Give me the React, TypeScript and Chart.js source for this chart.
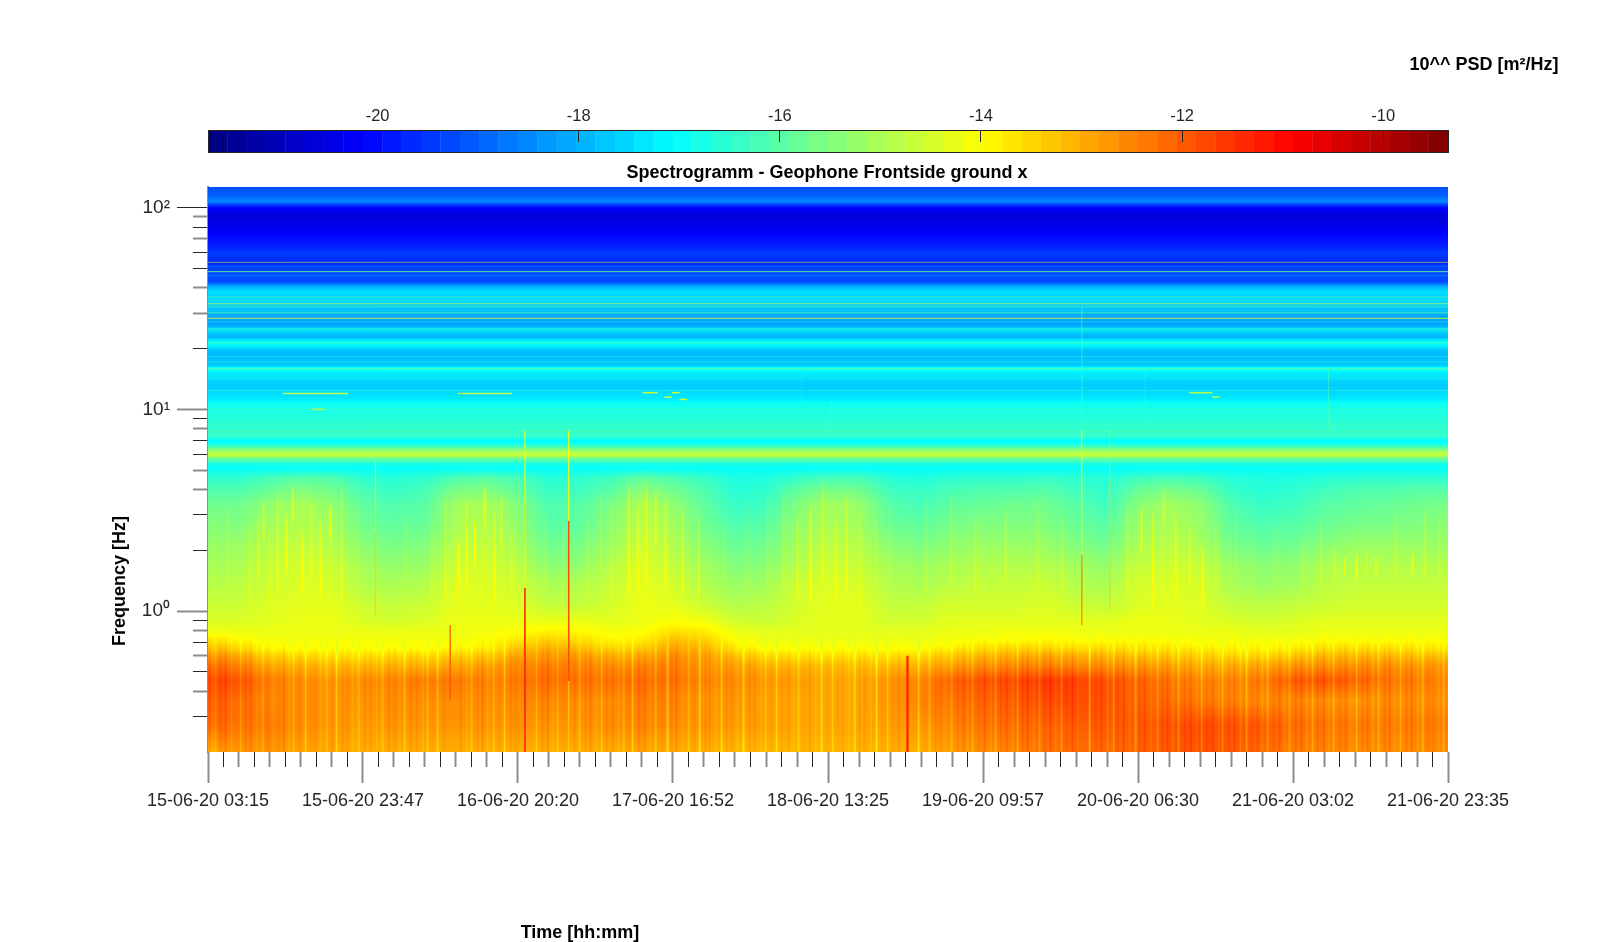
import { useEffect, useRef } from "react";
import { Chart, registerables } from "chart.js";

Chart.register(...registerables);

// colour limits of the colorbar, log10 PSD
const psdMin = -21.686;
const psdMax = -9.356;
const psdTicks = [-20, -18, -16, -14, -12, -10];

const totalHours = 164.33;
const timeLabels = [
  "15-06-20 03:15",
  "15-06-20 23:47",
  "16-06-20 20:20",
  "17-06-20 16:52",
  "18-06-20 13:25",
  "19-06-20 09:57",
  "20-06-20 06:30",
  "21-06-20 03:02",
  "21-06-20 23:35",
];
const majorHours = [0, 20.54, 41.08, 61.62, 82.17, 102.71, 123.25, 143.79, 164.33];

const freqMin = 0.2;
const freqMax = 126.7;
const freqMajor = [1, 10, 100];
const freqLabels: Record<number, string> = { 1: "10⁰", 10: "10¹", 100: "10²" };
const freqMinor = [
  0.3, 0.4, 0.5, 0.6, 0.7, 0.8, 0.9, 2, 3, 4, 5, 6, 7, 8, 9, 20, 30, 40, 50, 60, 70, 80, 90,
];
const freqMinorGray = [0.4, 0.6, 0.8, 4, 5, 8, 30, 40, 70, 90];

const gridHours = [
  0, 4.11, 8.22, 12.32, 16.43, 20.54, 24.65, 28.76, 32.87, 36.97, 41.08, 45.19, 49.3, 53.41,
  57.51, 61.62, 65.73, 69.84, 73.95, 78.06, 82.17, 86.27, 90.38, 94.49, 98.6, 102.71, 106.82,
  110.92, 115.03, 119.14, 123.25, 127.36, 131.47, 135.57, 139.68, 143.79, 147.9, 152.01, 156.12,
  160.22, 164.33,
];

// below 4.6 Hz the level changes over time: one row per frequency, one value per gridHours
const lowFreqs = [
  0.2, 0.272, 0.361, 0.454, 0.533, 0.598, 0.655, 0.718, 0.787, 0.881, 1.07, 1.35, 1.69, 2.13,
  2.67, 3.36, 3.99, 4.57,
];
const lowLevels = [
  [-12.9,-12.7,-12.7,-12.9,-12.9,-13.0,-13.0,-13.0,-13.0,-13.0,-13.0,-13.0,-13.0,-13.0,-12.9,-13.0,-13.0,-13.1,-13.1,-13.1,-13.1,-13.1,-13.0,-13.0,-12.8,-12.6,-12.5,-12.3,-12.2,-12.2,-12.1,-12.0,-11.9,-12.0,-12.2,-12.4,-12.5,-12.6,-12.6,-12.6,-12.6],
  [-12.1,-12.3,-12.4,-12.6,-12.7,-12.8,-12.7,-12.7,-12.7,-12.7,-12.7,-12.7,-12.7,-12.6,-12.5,-12.6,-12.7,-12.8,-12.8,-12.9,-12.9,-12.9,-12.8,-12.7,-12.5,-12.3,-12.2,-12.1,-12.0,-12.0,-12.0,-11.9,-11.8,-11.9,-12.0,-12.2,-12.3,-12.4,-12.4,-12.4,-12.4],
  [-11.9,-12.2,-12.5,-12.6,-12.7,-12.7,-12.6,-12.6,-12.6,-12.6,-12.6,-12.5,-12.6,-12.6,-12.4,-12.5,-12.7,-12.7,-12.8,-12.9,-12.9,-12.9,-12.7,-12.5,-12.3,-12.1,-12.0,-11.8,-11.8,-11.9,-12.1,-12.2,-12.4,-12.5,-12.6,-12.5,-12.6,-12.7,-12.6,-12.6,-12.6],
  [-11.7,-11.9,-12.4,-12.6,-12.7,-12.6,-12.5,-12.4,-12.4,-12.5,-12.4,-12.2,-12.3,-12.3,-12.2,-12.3,-12.5,-12.6,-12.7,-12.8,-12.9,-12.9,-12.7,-12.5,-12.1,-11.9,-11.8,-11.6,-11.7,-11.9,-12.1,-12.3,-12.5,-12.5,-12.4,-12.0,-11.9,-12.1,-12.3,-12.4,-12.5],
  [-12.1,-12.4,-12.9,-13.0,-13.1,-13.1,-13.0,-13.0,-12.9,-12.8,-12.6,-12.4,-12.5,-12.6,-12.5,-12.4,-12.7,-12.8,-13.0,-13.1,-13.1,-13.2,-13.1,-13.0,-12.8,-12.6,-12.5,-12.4,-12.5,-12.6,-12.7,-12.8,-13.0,-13.0,-12.9,-12.7,-12.6,-12.6,-12.6,-12.7,-12.7],
  [-12.6,-12.9,-13.4,-13.5,-13.6,-13.6,-13.5,-13.5,-13.4,-13.3,-12.9,-12.7,-12.8,-13.0,-12.9,-12.6,-12.8,-13.2,-13.5,-13.6,-13.6,-13.6,-13.6,-13.5,-13.3,-13.1,-13.0,-12.9,-13.0,-13.1,-13.2,-13.3,-13.4,-13.5,-13.5,-13.3,-13.1,-13.1,-13.1,-13.2,-13.2],
  [-13.1,-13.5,-13.9,-14.0,-14.0,-14.0,-14.0,-14.0,-13.9,-13.8,-13.3,-13.0,-13.2,-13.5,-13.4,-12.9,-13.1,-13.7,-14.0,-14.0,-14.0,-14.0,-14.0,-14.0,-13.8,-13.6,-13.5,-13.5,-13.6,-13.6,-13.7,-13.7,-13.8,-13.9,-13.9,-13.8,-13.6,-13.6,-13.6,-13.7,-13.7],
  [-13.6,-13.9,-14.1,-14.1,-14.1,-14.1,-14.1,-14.1,-14.1,-14.0,-13.7,-13.4,-13.6,-13.9,-13.8,-13.2,-13.4,-14.0,-14.2,-14.2,-14.2,-14.2,-14.2,-14.2,-14.1,-14.0,-14.0,-13.9,-14.0,-14.0,-14.0,-14.0,-14.1,-14.1,-14.1,-14.1,-14.0,-14.0,-14.0,-14.0,-14.0],
  [-14.1,-14.2,-14.2,-14.2,-14.2,-14.2,-14.2,-14.2,-14.2,-14.1,-14.0,-13.8,-13.9,-14.1,-14.0,-13.6,-13.7,-14.2,-14.3,-14.3,-14.3,-14.3,-14.3,-14.3,-14.2,-14.2,-14.1,-14.1,-14.2,-14.2,-14.2,-14.2,-14.2,-14.2,-14.3,-14.3,-14.2,-14.2,-14.2,-14.2,-14.2],
  [-14.4,-14.4,-14.3,-14.2,-14.2,-14.4,-14.5,-14.4,-14.2,-14.2,-14.2,-14.2,-14.2,-14.3,-14.2,-14.0,-14.1,-14.5,-14.6,-14.4,-14.3,-14.3,-14.5,-14.5,-14.3,-14.3,-14.3,-14.3,-14.3,-14.3,-14.2,-14.2,-14.3,-14.4,-14.5,-14.4,-14.3,-14.3,-14.3,-14.3,-14.3],
  [-14.6,-14.6,-14.4,-14.3,-14.3,-14.6,-14.7,-14.6,-14.3,-14.3,-14.4,-14.7,-14.7,-14.5,-14.2,-14.3,-14.6,-14.9,-14.8,-14.5,-14.3,-14.3,-14.7,-14.7,-14.5,-14.5,-14.5,-14.4,-14.6,-14.7,-14.4,-14.3,-14.4,-14.7,-14.8,-14.7,-14.6,-14.5,-14.5,-14.5,-14.5],
  [-14.9,-14.8,-14.6,-14.4,-14.5,-14.9,-15.0,-14.9,-14.4,-14.4,-14.6,-15.0,-14.9,-14.7,-14.3,-14.5,-14.9,-15.2,-15.1,-14.6,-14.4,-14.5,-14.9,-15.0,-14.8,-14.7,-14.7,-14.6,-14.9,-15.0,-14.5,-14.4,-14.5,-15.0,-15.2,-15.1,-14.8,-14.7,-14.7,-14.7,-14.7],
  [-15.1,-15.0,-14.7,-14.5,-14.6,-15.1,-15.3,-15.2,-14.6,-14.5,-14.8,-15.4,-15.3,-14.9,-14.4,-14.7,-15.1,-15.5,-15.4,-14.9,-14.6,-14.7,-15.1,-15.2,-15.0,-14.9,-14.9,-14.9,-15.1,-15.3,-14.7,-14.6,-14.7,-15.2,-15.4,-15.3,-15.0,-14.9,-14.9,-14.9,-14.9],
  [-15.3,-15.2,-14.9,-14.7,-14.9,-15.4,-15.6,-15.5,-14.8,-14.7,-15.1,-15.7,-15.6,-15.2,-14.6,-14.9,-15.4,-15.8,-15.7,-15.1,-14.8,-14.9,-15.4,-15.6,-15.3,-15.2,-15.2,-15.2,-15.5,-15.7,-15.0,-14.8,-15.0,-15.6,-15.8,-15.7,-15.4,-15.2,-15.2,-15.2,-15.2],
  [-15.5,-15.5,-15.1,-14.9,-15.1,-15.7,-15.9,-15.8,-15.0,-14.9,-15.3,-16.0,-15.9,-15.4,-14.8,-15.1,-15.7,-16.1,-16.0,-15.3,-15.0,-15.1,-15.8,-15.9,-15.6,-15.5,-15.5,-15.5,-15.8,-16.0,-15.2,-15.0,-15.2,-15.9,-16.1,-16.0,-15.8,-15.6,-15.6,-15.5,-15.4],
  [-15.7,-15.7,-15.3,-15.0,-15.3,-15.9,-16.1,-16.0,-15.1,-15.0,-15.5,-16.1,-16.0,-15.6,-14.9,-15.3,-15.9,-16.4,-16.3,-15.5,-15.1,-15.2,-16.0,-16.2,-15.9,-15.8,-15.7,-15.7,-16.0,-16.3,-15.4,-15.1,-15.3,-16.1,-16.4,-16.3,-16.0,-15.9,-15.8,-15.7,-15.6],
  [-16.1,-16.1,-15.8,-15.5,-15.7,-16.2,-16.4,-16.2,-15.6,-15.5,-15.9,-16.4,-16.3,-16.0,-15.4,-15.7,-16.1,-16.6,-16.5,-15.9,-15.6,-15.7,-16.3,-16.4,-16.2,-16.1,-16.1,-16.0,-16.3,-16.5,-15.8,-15.6,-15.8,-16.4,-16.6,-16.5,-16.3,-16.1,-16.1,-16.0,-16.0],
  [-16.5,-16.5,-16.2,-16.0,-16.1,-16.5,-16.6,-16.5,-16.1,-16.0,-16.2,-16.6,-16.5,-16.3,-15.9,-16.1,-16.4,-16.7,-16.7,-16.4,-16.2,-16.2,-16.6,-16.7,-16.5,-16.5,-16.5,-16.4,-16.5,-16.6,-16.3,-16.2,-16.3,-16.6,-16.7,-16.7,-16.6,-16.5,-16.5,-16.5,-16.5],
];

// above 4.6 Hz the level is almost steady, one value per band
const bandFreqs = [
  5.07, 5.37, 5.69, 5.95, 6.23, 6.52, 6.9, 7.39, 8.88, 10.7, 11.2, 13.2, 15.4, 15.9, 16.47, 19.3,
  21.4, 22.9, 25.1, 26, 28.5, 33, 38.4, 40.6, 43, 48.2, 53.4, 59.3, 64.9, 72.8, 81.6, 91.5, 100,
  103.8, 107.4, 115, 126.7,
];
const bandLevels = [
  -17.0, -16.8, -15.8, -14.6, -15.2, -16.2, -17.2, -16.4, -16.6, -16.9, -17.3, -17.7, -17.2, -16.6,
  -17.7, -17.9, -16.9, -18.0, -17.4, -18.1, -18.2, -17.6, -17.5, -18.0, -19.3, -19.2, -19.7, -19.4,
  -19.8, -20.1, -20.4, -20.6, -20.1, -19.3, -18.5, -19.0, -19.2,
];

// thin tones over the whole record: frequency, level, opacity
const toneLines = [
  [53.6, -14.2, 0.55], [48.2, -15.6, 0.8], [36.1, -15.6, 0.5], [33.4, -14.6, 0.7], [32.3, -15.6, 0.5],
  [30.1, -15.8, 0.7], [28.3, -14.6, 0.9], [25.0, -16.2, 0.7], [21.4, -16.0, 0.7], [15.9, -16.2, 0.8],
  [51.3, -17.4, 0.35], [46, -17.6, 0.35], [35, -16.4, 0.35], [30.8, -16.6, 0.3], [27.2, -16.4, 0.4],
  [24.3, -16.6, 0.35], [22.2, -16.8, 0.35], [20.4, -16.6, 0.35], [18.3, -16.6, 0.35], [17.2, -16.4, 0.3],
  [14.3, -16.2, 0.4], [12.4, -16.0, 0.3], [10, -15.8, 0.4], [8.3, -15.8, 0.35], [7.75, -15.8, 0.4],
];

// short tones around 8-12 Hz: from hour, to hour, frequency, level
const shortTones = [
  [9.9, 18.6, 12.0, -14.8], [33.1, 40.3, 12.0, -14.8], [13.8, 15.5, 10.0, -14.6],
  [57.6, 59.6, 12.1, -14.6], [60.5, 61.5, 11.5, -14.6], [61.5, 62.5, 12.1, -14.6],
  [62.5, 63.5, 11.2, -14.6], [130, 133.1, 12.1, -14.8], [133.1, 134, 11.5, -14.8],
];

// single events: hour, low frequency, high frequency, level, opacity, width
const spikes = [
  [22.2, 2.5, 5.6, -14.8, 0.7, 1.3], [22.2, 0.95, 2.5, -13.4, 0.8, 1.3],
  [42.0, 1.3, 7.9, -14.2, 0.8, 1.3], [42.0, 0.2, 1.3, -11.2, 1, 1.5],
  [47.8, 2.8, 7.9, -13.9, 0.9, 1.3], [47.8, 0.45, 2.8, -11.8, 1, 1.5], [47.8, 0.2, 0.45, -13.4, 0.8, 1.3],
  [32.1, 0.36, 0.85, -11.8, 0.8, 1.5],
  [92.7, 0.2, 0.6, -11.3, 1, 2.2],
  [115.8, 7.9, 32, -15.9, 0.45, 1.3], [115.8, 1.9, 7.9, -14.4, 0.8, 1.3], [115.8, 0.85, 1.9, -12.4, 0.9, 1.3],
  [119.5, 4.5, 7.9, -15.4, 0.5, 1.3], [119.5, 1.0, 4.5, -13.4, 0.8, 1.3],
  [124.2, 7.9, 15.7, -16.0, 0.4, 1], [148.5, 7.9, 15.7, -15.8, 0.45, 1], [78.7, 7.9, 15.7, -16.2, 0.35, 1], [82.6, 7.9, 11, -15.6, 0.35, 1],
];

// fine vertical streaks in the mid band: hour, low frequency, high frequency, level change
const midStreaks = [
  [0.6, 1.1, 3.4, 0.3], [2.7, 1.2, 3.6, 0.3], [5.4, 1.0, 3.0, 0.4], [6.6, 1.4, 3.1, 0.5], [7.3, 2.2, 3.6, 0.8],
  [8.1, 1.0, 2.6, 0.3], [9.2, 1.1, 4.4, 0.5], [10.4, 1.5, 3.1, 0.7], [11.1, 2.6, 4.4, 0.6], [12.4, 1.2, 2.6, 0.5],
  [13.6, 1.3, 4.0, 0.4], [14.9, 1.1, 3.0, 0.5], [16.2, 2.2, 3.4, 0.9], [17.6, 1.0, 5.0, 0.5], [19.8, 1.3, 3.6, 0.3],
  [26.1, 1.3, 3.2, 0.3], [29.5, 1.1, 2.9, 0.3], [31.4, 1.0, 4.2, 0.4], [33.1, 1.1, 2.4, 0.6], [34.2, 1.2, 3.8, 0.5],
  [35.3, 1.6, 3.0, 0.7], [36.6, 2.5, 4.3, 0.7], [37.9, 1.0, 3.4, 0.5], [38.8, 1.9, 3.9, 0.7], [40.1, 1.2, 2.7, 0.4],
  [44.6, 1.2, 3.2, 0.3], [50.2, 1.1, 3.1, 0.3], [51.9, 1.4, 4.2, 0.3], [53.4, 1.0, 3.9, 0.4], [55.6, 1.1, 5.0, 0.6],
  [56.9, 1.2, 3.5, 0.6], [58.1, 1.3, 4.6, 0.6], [59.3, 2.0, 4.2, 0.7], [60.6, 1.2, 4.0, 0.6], [62.8, 1.1, 3.6, 0.5],
  [64.9, 1.0, 3.4, 0.4], [68.3, 1.3, 3.0, 0.2], [71.3, 1.2, 3.6, 0.3], [74.1, 1.1, 4.4, 0.3], [76.2, 1.2, 4.4, 0.4],
  [78.0, 1.1, 3.1, 0.5], [79.8, 1.0, 3.8, 0.6], [81.4, 1.3, 4.6, 0.6], [83.1, 1.1, 3.0, 0.5], [84.5, 1.2, 4.1, 0.5],
  [86.3, 1.0, 3.3, 0.4], [88.4, 1.2, 3.4, 0.2], [90.2, 1.3, 3.6, 0.3], [92.9, 1.2, 3.0, 0.2], [95.1, 1.1, 4.0, 0.3],
  [98.4, 1.2, 4.3, 0.3], [101.7, 1.1, 3.2, 0.4], [105.6, 1.3, 3.4, 0.4], [109.8, 1.2, 3.9, 0.3], [113.2, 1.1, 3.4, 0.3],
  [121.8, 1.1, 3.7, 0.5], [123.6, 1.9, 3.4, 0.8], [125.1, 1.0, 3.4, 0.6], [126.6, 2.6, 4.2, 0.6], [128.2, 1.1, 3.2, 0.6],
  [130.0, 1.3, 2.9, 0.5], [131.7, 1.0, 2.2, 0.6], [133.5, 1.2, 3.0, 0.4], [136.2, 1.3, 3.6, 0.2], [138.1, 1.1, 3.1, 0.2],
  [141.3, 1.2, 2.8, 0.2], [145.0, 1.2, 2.4, 0.3], [147.4, 1.2, 3.1, 0.3], [149.2, 1.4, 2.1, 0.5], [150.6, 1.5, 1.9, 0.6],
  [152.2, 1.4, 2.0, 0.6], [153.5, 1.5, 2.0, 0.4], [154.7, 1.5, 1.9, 0.7], [157.3, 1.4, 3.2, 0.4], [159.6, 1.5, 2.0, 0.6],
  [161.2, 1.4, 3.4, 0.4], [163.2, 1.3, 3.2, 0.3],
];

// fine streaks in the orange band under 0.7 Hz: hour, level change
const lowStreaks = [
  [0.5, -0.3], [0.9, -0.4], [1.6, 0.2], [2.3, 0.3], [3.1, -0.2], [4.2, -0.4], [4.9, 0.2], [5.6, 0.3], [6.3, -0.2],
  [7.1, -0.4], [7.8, 0.2], [8.6, -0.2], [9.3, 0.1], [9.9, 0.3], [10.6, -0.2], [11.3, -0.4], [12.1, 0.2], [12.8, -0.5],
  [13.5, 0.1], [14.2, 0.2], [14.9, -0.2], [15.7, -0.4], [16.4, 0.2], [17.0, -0.6], [17.7, 0.2], [18.4, 0.2], [19.1, -0.2],
  [19.9, -0.4], [20.7, 0.2], [21.5, 0.2], [22.3, -0.2], [23.1, -0.4], [23.9, 0.2], [24.6, 0.2], [25.3, -0.2], [26.0, -0.5],
  [26.8, 0.2], [27.6, 0.2], [28.3, -0.2], [29.0, -0.4], [29.7, 0.1], [30.4, -0.6], [31.1, 0.2], [33.4, 0.2], [34.2, -0.2],
  [34.9, -0.4], [35.6, 0.2], [36.3, 0.3], [37.0, -0.2], [37.8, -0.4], [38.5, 0.1], [39.2, -0.6], [40.0, 0.2], [40.7, 0.2],
  [43.5, -0.4], [44.2, 0.2], [44.9, 0.3], [45.6, -0.2], [46.3, -0.4], [47.1, 0.1], [48.5, 0.2], [49.2, -0.4], [49.9, 0.2],
  [50.6, 0.3], [51.3, -0.2], [52.1, -0.4], [52.8, 0.2], [53.5, 0.2], [54.3, -0.2], [55.0, -0.4], [55.6, 0.1], [56.2, -0.6],
  [57.0, 0.2], [57.8, 0.2], [58.5, -0.2], [59.3, -0.5], [60.1, 0.1], [60.8, -0.7], [61.4, 0.2], [62.0, 0.3], [62.8, -0.2],
  [63.6, -0.4], [64.4, 0.1], [65.1, -0.7], [65.8, 0.2], [66.4, 0.2], [67.2, -0.2], [68.0, -0.6], [68.6, 0.2], [69.3, 0.2],
  [70.1, -0.2], [70.9, -0.7], [71.7, 0.2], [72.4, 0.2], [73.1, -0.2], [73.8, -0.4], [74.6, 0.1], [75.3, -0.6], [76.0, 0.1],
  [76.8, 0.2], [77.5, -0.2], [78.2, -0.4], [78.9, 0.1], [79.6, 0.2], [80.4, -0.2], [81.2, -0.6], [82.0, 0.1], [82.7, -0.4],
  [83.3, 0.1], [84.0, 0.2], [84.8, -0.2], [85.6, -0.5], [86.3, 0.2], [87.0, 0.2], [87.7, -0.2], [88.5, -0.7], [89.3, 0.1],
  [90.0, -0.4], [90.7, 0.1], [91.4, 0.2], [94.1, -0.7], [94.9, 0.1], [95.6, -0.4], [96.3, 0.2], [97.0, 0.2], [97.7, -0.2],
  [98.5, -0.4], [99.2, 0.2], [100.0, 0.3], [100.6, -0.2], [101.3, -0.4], [102.1, 0.2], [102.9, 0.3], [103.6, -0.2], [104.3, -0.5],
  [105.0, 0.2], [105.8, 0.3], [106.5, -0.2], [107.2, -0.5], [107.9, 0.2], [108.6, 0.3], [109.3, -0.2], [110.1, -0.5], [110.8, 0.2],
  [111.6, 0.3], [112.3, -0.2], [113.0, -0.5], [113.7, 0.2], [114.5, 0.3], [115.2, -0.2], [116.8, -0.7], [117.5, 0.2], [118.3, 0.3],
  [119.1, -0.3], [119.9, -0.5], [120.5, 0.2], [121.2, 0.3], [122.0, -0.2], [122.8, -0.7], [123.4, 0.2], [124.1, 0.3], [124.9, -0.2],
  [125.7, -0.5], [126.4, 0.2], [127.1, 0.3], [127.8, -0.3], [128.6, -0.6], [129.4, 0.2], [130.2, 0.3], [130.9, -0.2], [131.6, -0.5],
  [132.3, 0.2], [133.1, 0.3], [133.8, -0.2], [134.4, -0.5], [135.2, 0.2], [136.0, 0.3], [136.7, -0.3], [137.5, -0.6], [138.2, 0.2],
  [139.0, 0.3], [139.7, -0.2], [140.4, -0.5], [141.2, 0.2], [141.9, 0.3], [142.6, -0.2], [143.3, -0.5], [144.0, 0.2], [144.8, 0.3],
  [145.5, -0.3], [146.3, -0.5], [147.0, 0.2], [147.7, 0.3], [148.4, -0.2], [149.1, -0.5], [149.9, 0.2], [150.7, 0.3], [151.4, -0.2],
  [152.1, -0.5], [152.9, 0.2], [153.6, 0.3], [154.3, -0.3], [155.0, -0.5], [155.8, 0.2], [156.5, 0.3], [157.2, -0.2], [158.0, -0.5],
  [158.7, 0.2], [159.4, 0.3], [160.2, -0.3], [160.9, -0.5], [161.6, 0.2], [162.3, 0.2], [163.0, -0.2], [163.7, -0.4],
];

const textColor = "#262626";
const grayTick = "#8c8c8c";
const labelFont = "'Liberation Sans', Arial, sans-serif";

const jetAt = (x: number): [number, number, number] => {
  const ch = (c: number) => Math.round(255 * Math.min(1, Math.max(0, 1.5 - Math.abs(4 * x - c))));
  return [ch(3), ch(2), ch(1)];
};
const psdFrac = (v: number) => Math.min(1, Math.max(0, (v - psdMin) / (psdMax - psdMin)));
const psdColor = (v: number, alpha = 1) => {
  const [r, g, b] = jetAt(psdFrac(v));
  return `rgba(${r},${g},${b},${alpha})`;
};

const bracket = (list: number[], v: number): [number, number] => {
  let i = 0;
  while (i < list.length - 2 && list[i + 1] < v) i++;
  const t = (v - list[i]) / (list[i + 1] - list[i]);
  return [i, Math.min(1, Math.max(0, t))];
};

const rowFreqs = [...lowFreqs, ...bandFreqs].map(Math.log10);
const rowLevels = [...lowLevels, ...bandLevels.map((v) => gridHours.map(() => v))];

// paints the level table and its streaks through the x and y scales
const spectrogramPlugin = {
  id: "spectrogram",
  beforeDatasetsDraw(chart: Chart) {
    const { ctx, chartArea, scales } = chart;
    const left = Math.round(chartArea.left);
    const top = Math.round(chartArea.top);
    const w = Math.round(chartArea.right) - left;
    const h = Math.round(chartArea.bottom) - top;
    const levels = new Float32Array(w * h);
    const cols = Array.from({ length: w }, (_, px) =>
      bracket(gridHours, scales.x.getValueForPixel(left + px + 0.5) as number)
    );
    for (let py = 0; py < h; py++) {
      const f = scales.y.getValueForPixel(top + py + 0.5) as number;
      const [r, rt] = bracket(rowFreqs, Math.log10(f));
      const lo = rowLevels[r];
      const hi = rowLevels[r + 1];
      for (let px = 0; px < w; px++) {
        const [c, ct] = cols[px];
        const a = lo[c] + (lo[c + 1] - lo[c]) * ct;
        const b = hi[c] + (hi[c + 1] - hi[c]) * ct;
        levels[py * w + px] = a + (b - a) * rt;
      }
    }
    const addStreak = (hour: number, f0: number, f1: number, delta: number) => {
      const px = Math.round(scales.x.getPixelForValue(hour)) - left;
      const y0 = scales.y.getPixelForValue(f1) - top;
      const y1 = scales.y.getPixelForValue(f0) - top;
      for (let py = Math.max(0, Math.round(y0)); py < Math.min(h, Math.round(y1)); py++) {
        const u = (py - y0) / (y1 - y0);
        const fade = Math.min(1, Math.min(u, 1 - u) * 6);
        if (px >= 0 && px < w) levels[py * w + px] += delta * fade;
        if (px + 1 >= 0 && px + 1 < w) levels[py * w + px + 1] += 0.6 * delta * fade;
        if (px - 1 >= 0 && px - 1 < w) levels[py * w + px - 1] += 0.3 * delta * fade;
      }
    };
    lowStreaks.forEach(([hour, delta]) => addStreak(hour, 0.16, 0.8, delta));
    midStreaks.forEach(([hour, f0, f1, delta]) => addStreak(hour, f0, f1, delta));

    const img = ctx.createImageData(w, h);
    levels.forEach((v, i) => {
      const [r, g, b] = jetAt(psdFrac(v));
      img.data[i * 4] = r;
      img.data[i * 4 + 1] = g;
      img.data[i * 4 + 2] = b;
      img.data[i * 4 + 3] = 255;
    });
    ctx.putImageData(img, left, top);
  },
};

const chartLabelsPlugin = {
  id: "chartLabels",
  afterDraw(chart: Chart) {
    const { ctx } = chart;
    const put = (text: string, x: number, y: number, rotate = 0) => {
      ctx.save();
      ctx.translate(x, y);
      ctx.rotate(rotate);
      ctx.fillText(text, 0, 0);
      ctx.restore();
    };
    ctx.save();
    ctx.fillStyle = "#000";
    ctx.font = `bold 18px ${labelFont}`;
    ctx.textAlign = "center";
    ctx.textBaseline = "middle";
    put("Spectrogramm - Geophone Frontside ground x", 827, 173);
    put("Time [hh:mm]", 580, 933);
    put("Frequency [Hz]", 120, 581, -Math.PI / 2);
    put("10^^ PSD [m²/Hz]", 1484, 65);
    ctx.restore();
  },
};

const colorbarBoxPlugin = {
  id: "colorbarBox",
  afterDatasetsDraw(chart: Chart) {
    const { ctx, chartArea } = chart;
    ctx.save();
    ctx.strokeStyle = textColor;
    ctx.lineWidth = 1;
    ctx.strokeRect(chartArea.left + 0.5, chartArea.top + 0.5, chartArea.width, chartArea.height);
    ctx.restore();
  },
};

const lineSet = (x0: number, x1: number, y0: number, y1: number, color: string, width = 1) => ({
  data: [
    { x: x0, y: y0 },
    { x: x1, y: y1 },
  ],
  borderColor: color,
  borderWidth: width,
  pointRadius: 0,
  showLine: true,
  xAxisID: "x",
  yAxisID: "y",
});

const hiddenTickScale = {
  ticks: { display: false },
  border: { display: false },
};

export default function App() {
  const plotRef = useRef<HTMLCanvasElement | null>(null);
  const barRef = useRef<HTMLCanvasElement | null>(null);

  useEffect(() => {
    if (!plotRef.current || !barRef.current) return;

    const minorHours: number[] = [];
    majorHours.slice(1).forEach((h, i) => {
      for (let k = 1; k < 10; k++) minorHours.push(majorHours[i] + ((h - majorHours[i]) * k) / 10);
    });

    const plot = new Chart(plotRef.current, {
      type: "scatter",
      data: {
        datasets: [
          ...toneLines.map(([f, v, a]) => lineSet(0, totalHours, f, f, psdColor(v, a))),
          ...shortTones.map(([h0, h1, f, v]) => lineSet(h0, h1, f, f, psdColor(v), 1.5)),
          ...spikes.map(([h, f0, f1, v, a, lw]) => lineSet(h, h, f0, f1, psdColor(v, a), lw)),
        ],
      },
      plugins: [spectrogramPlugin, chartLabelsPlugin],
      options: {
        responsive: false,
        animation: false,
        devicePixelRatio: 1,
        layout: { padding: { top: 187, right: 152, left: 0, bottom: 0 } },
        plugins: { legend: { display: false }, tooltip: { enabled: false } },
        scales: {
          x: {
            type: "linear",
            position: "bottom",
            weight: 1,
            min: 0,
            max: totalHours,
            afterBuildTicks: (s: any) => {
              s.ticks = majorHours.map((value) => ({ value }));
            },
            afterFit: (s: any) => {
              s.height = 190;
            },
            ticks: {
              autoSkip: false,
              maxRotation: 0,
              padding: 7,
              color: textColor,
              font: { family: labelFont, size: 18 },
              callback: (_v: any, i: number) => timeLabels[i],
            },
            grid: {
              drawOnChartArea: false,
              tickLength: 31,
              tickWidth: 2,
              tickColor: grayTick,
            },
            border: { display: false },
          },
          xMinor: {
            type: "linear",
            position: "bottom",
            weight: 0,
            min: 0,
            max: totalHours,
            afterBuildTicks: (s: any) => {
              s.ticks = minorHours.map((value) => ({ value }));
            },
            afterFit: (s: any) => {
              s.height = 0;
            },
            grid: {
              drawOnChartArea: false,
              tickLength: 15,
              tickWidth: (c: any) => (c.index % 9 % 2 === 0 ? 1 : 2),
              tickColor: (c: any) => (c.index % 9 % 2 === 0 ? textColor : grayTick),
            },
            ...hiddenTickScale,
          },
          y: {
            type: "logarithmic",
            position: "left",
            weight: 1,
            min: freqMin,
            max: freqMax,
            afterBuildTicks: (s: any) => {
              s.ticks = freqMajor.map((value) => ({ value }));
            },
            afterFit: (s: any) => {
              s.width = 208;
            },
            ticks: {
              autoSkip: false,
              padding: 7,
              color: textColor,
              font: { family: labelFont, size: 19 },
              callback: (v: any) => freqLabels[v as number],
            },
            grid: {
              drawOnChartArea: false,
              tickLength: 31,
              tickWidth: (c: any) => (c.tick?.value === 100 ? 1 : 2),
              tickColor: (c: any) => (c.tick?.value === 100 ? textColor : grayTick),
            },
            border: { color: grayTick, width: 2 },
          },
          yMinor: {
            type: "logarithmic",
            position: "left",
            weight: 0,
            min: freqMin,
            max: freqMax,
            afterBuildTicks: (s: any) => {
              s.ticks = freqMinor.map((value) => ({ value }));
            },
            afterFit: (s: any) => {
              s.width = 0;
            },
            grid: {
              drawOnChartArea: false,
              tickLength: 15,
              tickWidth: (c: any) => (freqMinorGray.includes(c.tick?.value) ? 2 : 1),
              tickColor: (c: any) => (freqMinorGray.includes(c.tick?.value) ? grayTick : textColor),
            },
            ...hiddenTickScale,
          },
        },
      },
    } as any);

    const stepWidth = (psdMax - psdMin) / 64;
    const steps = Array.from({ length: 64 }, (_, i) => i);
    const bar = new Chart(barRef.current, {
      type: "bar",
      data: {
        datasets: [
          {
            data: steps.map((i) => ({ x: psdMin + (i + 0.5) * stepWidth, y: 1 })),
            backgroundColor: steps.map((i) => {
              const [r, g, b] = jetAt((i + 0.5) / 64);
              return `rgb(${r},${g},${b})`;
            }),
            borderWidth: 0,
            barPercentage: 1.02,
            categoryPercentage: 1,
          },
        ],
      },
      plugins: [colorbarBoxPlugin],
      options: {
        responsive: false,
        animation: false,
        devicePixelRatio: 1,
        layout: { padding: { top: 0, right: 152, left: 208, bottom: 8 } },
        plugins: { legend: { display: false }, tooltip: { enabled: false } },
        scales: {
          x: {
            type: "linear",
            position: "top",
            offset: false,
            min: psdMin,
            max: psdMax,
            afterBuildTicks: (s: any) => {
              s.ticks = psdTicks.map((value) => ({ value }));
            },
            afterFit: (s: any) => {
              s.height = 130;
            },
            ticks: {
              autoSkip: false,
              maxRotation: 0,
              padding: 16,
              color: textColor,
              font: { family: labelFont, size: 16.5 },
            },
            grid: {
              offset: false,
              drawOnChartArea: false,
              tickLength: -12,
              tickColor: textColor,
              z: 1,
            },
            border: { display: false },
          },
          y: { display: false, min: 0, max: 1 },
        },
      },
    } as any);

    return () => {
      plot.destroy();
      bar.destroy();
    };
  }, []);

  return (
    <div style={{ position: "fixed", left: 0, top: 0, width: 1600, height: 942, background: "#fff" }}>
      <canvas ref={plotRef} width={1600} height={942} style={{ position: "absolute", left: 0, top: 0 }} />
      <canvas ref={barRef} width={1600} height={160} style={{ position: "absolute", left: 0, top: 0 }} />
    </div>
  );
}
